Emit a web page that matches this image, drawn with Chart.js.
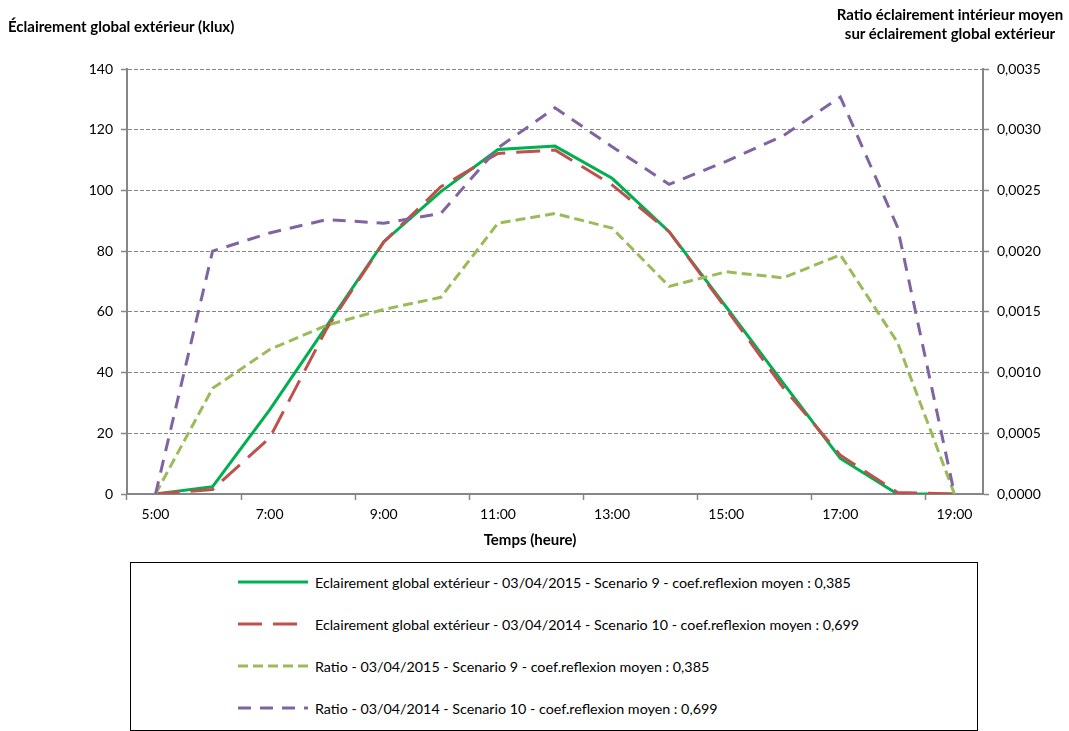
<!DOCTYPE html>
<html>
<head>
<meta charset="utf-8">
<script src="https://cdn.jsdelivr.net/npm/chart.js@4.4.1/dist/chart.umd.min.js"></script>
<style>
  body { margin: 0; background: #fff; font-family: Lato, "Liberation Sans", Arial, sans-serif; }
  #wrap { position: relative; width: 1069px; height: 731px; }
  #chartBox { position: absolute; left: 0; top: 0; width: 1069px; height: 555px; }
  .title { position: absolute; font-weight: bold; font-size: 15px; color: #000; white-space: nowrap; }
  #leftTitle { left: 8px; top: 17px; }
  #rightTitle { left: 830px; width: 240px; top: 5px; text-align: center; line-height: 19px; }
  #xTitle { left: 470px; top: 530px; width: 120px; text-align: center; }
  #legend { position: absolute; left: 130px; top: 562px; width: 846px; height: 167px; border: 1.5px solid #000; }
  .row { position: absolute; left: 107px; height: 20px; display: flex; align-items: center; font-size: 14.3px; color: #000; white-space: nowrap; }
  .row svg { margin-right: 7px; }
</style>
</head>
<body>
<div id="wrap">
  <div id="chartBox"><canvas id="chart"></canvas></div>
  <div class="title" id="leftTitle">Éclairement global extérieur (klux)</div>
  <div class="title" id="rightTitle">Ratio éclairement intérieur moyen<br>sur éclairement global extérieur</div>
  <div class="title" id="xTitle">Temps (heure)</div>
  <div id="legend"></div>
</div>
<script>
const hours = ['5:00', '6:00', '7:00', '8:00', '9:00', '10:00', '11:00', '12:00', '13:00', '14:00', '15:00', '16:00', '17:00', '18:00', '19:00'];

// klux
const eclairement2015 = [0, 2.4, 27.7, 55.4, 83.1, 99.6, 113.5, 114.6, 104, 86.4, 61.6, 36.5, 11.7, 0, 0];
const eclairement2014 = [0, 1.5, 18.5, 54.5, 83, 101.2, 112.2, 113.3, 101.8, 86.4, 61, 35, 12.8, 0.5, 0];

// ratio interieur / exterieur
const ratio2015 = [0, 0.00087, 0.00119, 0.00139, 0.00152, 0.00162, 0.00223, 0.00231, 0.00219, 0.00171, 0.00183, 0.00178, 0.00197, 0.00125, 0];
const ratio2014 = [0, 0.00200, 0.00215, 0.00226, 0.00223, 0.00231, 0.00285, 0.00318, 0.00286, 0.00255, 0.00274, 0.00295, 0.00327, 0.00220, 0];

const labels = [
    'Eclairement global extérieur - 03/04/2015 - Scenario 9 - coef.reflexion moyen : 0,385',
    'Eclairement global extérieur - 03/04/2014 - Scenario 10 - coef.reflexion moyen : 0,699',
    'Ratio - 03/04/2015 - Scenario 9 - coef.reflexion moyen : 0,385',
    'Ratio - 03/04/2014 - Scenario 10 - coef.reflexion moyen : 0,699'
];

const gray = '#868686';
const font = { family: 'Lato, "Liberation Sans", Arial, sans-serif', size: 14 };

const datasets = [
    { label: labels[0], data: eclairement2015, yAxisID: 'y', borderColor: '#00B050', borderDash: [], order: 3 },
    { label: labels[1], data: eclairement2014, yAxisID: 'y', borderColor: '#C0504D', borderDash: [24, 11], order: 2 },
    { label: labels[2], data: ratio2015, yAxisID: 'y1', borderColor: '#9BBB59', borderDash: [10, 5], order: 1 },
    { label: labels[3], data: ratio2014, yAxisID: 'y1', borderColor: '#8064A2', borderDash: [13, 9], order: 0 }
].map(ds => ({ ...ds, borderWidth: 3, pointRadius: 0, tension: 0, fill: false, borderCapStyle: 'butt' }));

const chart = new Chart(document.getElementById('chart').getContext('2d'), {
    type: 'line',
    data: { labels: hours, datasets: datasets },
    options: {
        responsive: true,
        maintainAspectRatio: false,
        animation: false,
        layout: { padding: { top: 69, left: 0, right: 0, bottom: 0 } },
        plugins: { legend: { display: false }, tooltip: { enabled: false } },
        scales: {
            x: {
                type: 'category',
                offset: true,
                grid: {
                    offset: true,
                    drawOnChartArea: false,
                    tickLength: 6,
                    tickWidth: 1.5,
                    color: ctx => ctx.index % 2 === 0 ? gray : 'transparent',
                    tickColor: ctx => ctx.index % 2 === 0 ? gray : 'transparent'
                },
                border: { color: gray, width: 2 },
                ticks: {
                    autoSkip: false,
                    maxRotation: 0,
                    padding: 6,
                    color: '#000',
                    font: font,
                    callback: (v, i) => i % 2 === 0 ? hours[i] : ''
                },
                afterFit: scale => { scale.height = 61; }
            },
            y: {
                position: 'left',
                min: 0,
                max: 140,
                ticks: { stepSize: 20, color: '#000', font: font, padding: 8 },
                grid: { color: gray, lineWidth: 1, tickLength: 6, tickBorderDash: [], tickColor: gray, tickWidth: 1.5 },
                border: { color: gray, width: 2, dash: [4, 2] },
                afterFit: scale => { scale.width = 127; }
            },
            y1: {
                position: 'right',
                min: 0,
                max: 0.0035,
                ticks: {
                    stepSize: 0.0005,
                    color: '#000',
                    font: font,
                    padding: 8,
                    callback: v => v.toFixed(4).replace('.', ',')
                },
                grid: { drawOnChartArea: false, tickLength: 6, tickColor: gray, tickWidth: 1.5 },
                border: { color: gray, width: 2 },
                afterFit: scale => { scale.width = 86; }
            }
        }
    }
});

// legend built from the datasets
const legend = document.getElementById('legend');
const rowTops = [9, 51, 93, 135];
datasets.forEach((ds, i) => {
    const row = document.createElement('div');
    row.className = 'row';
    row.style.top = rowTops[i] + 'px';
    const dash = ds.borderDash.length ? ds.borderDash.join(' ') : 'none';
    row.innerHTML = '<svg width="70" height="6"><line x1="0" y1="3" x2="70" y2="3" stroke="' + ds.borderColor +
        '" stroke-width="3" stroke-dasharray="' + dash + '"/></svg>';
    const span = document.createElement('span');
    span.textContent = ds.label;
    row.appendChild(span);
    legend.appendChild(row);
});
</script>
</body>
</html>
